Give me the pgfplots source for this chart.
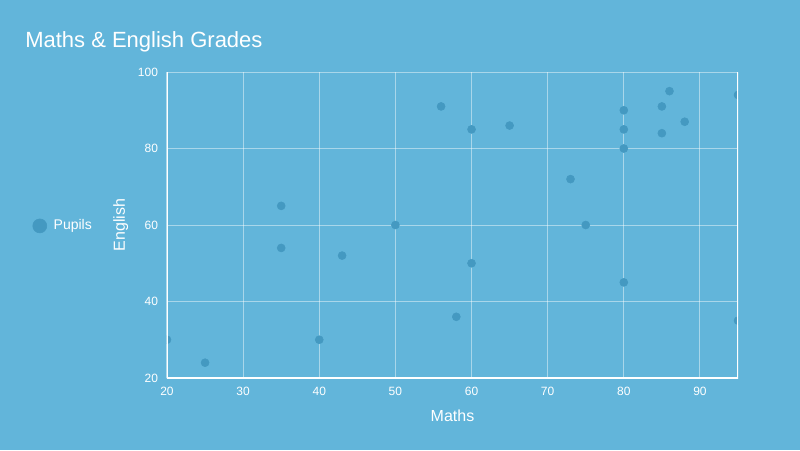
\documentclass[border=0pt]{standalone}
\usepackage{pgfplots}
\pgfplotsset{compat=1.18}
\usepackage{fontspec}
\setmainfont{Liberation Sans}
\definecolor{bg}{HTML}{62B5DA}
\definecolor{dot}{HTML}{4499C1}
\begin{document}
\begin{tikzpicture}
% background, 1px = 0.75pt
\fill[bg] (0,0) rectangle (600pt,337.5pt);
\node[anchor=base west, text=white, font=\fontsize{16.5}{18}\selectfont, inner sep=0pt]
  at (18.75pt,301.5pt) {Maths \& English Grades};
\begin{axis}[
    at={(125.25pt,54pt)}, anchor=south west,
    scale only axis, width=428.25pt, height=229.5pt,
    xmin=20, xmax=95, ymin=20, ymax=100,
    xtick={20,30,...,90}, ytick={20,40,...,100},
    axis line style={draw=none},
    major tick length=0pt,
    grid=major,
    major grid style={white, opacity=0.45, line width=0.75pt},
    ticklabel style={text=white, font=\fontsize{9}{10}\selectfont},
    /pgf/number format/assume math mode=true,
    xticklabel style={yshift=-3.5pt},
    yticklabel style={xshift=-3.25pt},
    xlabel={Maths}, ylabel={English},
    label style={text=white, font=\fontsize{12}{14}\selectfont},
    xlabel style={yshift=-4pt},
    ylabel style={yshift=0.5pt},
    clip marker paths=true,
    legend style={at={(-0.243,0.497)}, anchor=west, draw=none, fill=none,
      text=white, font=\fontsize{10.5}{12}\selectfont},
    legend image code/.code={\fill[dot] (0pt,0pt) circle (5.25pt);},
  ]
  \addplot[only marks, mark=*, mark size=3pt, color=dot]
    coordinates {
    (20,30) (25,24) (35,65) (35,54) (40,30) (43,52) (50,60) (56,91)
    (58,36) (60,85) (60,50) (65,86) (73,72) (75,60) (80,90) (80,85)
    (80,80) (80,45) (85,91) (85,84) (86,95) (88,87) (95,94) (95,35)
    };
  \addlegendentry{\hspace{3pt}Pupils}
  \draw[white, line width=1.5pt] (rel axis cs:0,1) -- (rel axis cs:0,0)
    -- (rel axis cs:1,0) -- (rel axis cs:1,1);
\end{axis}
\end{tikzpicture}
\end{document}
